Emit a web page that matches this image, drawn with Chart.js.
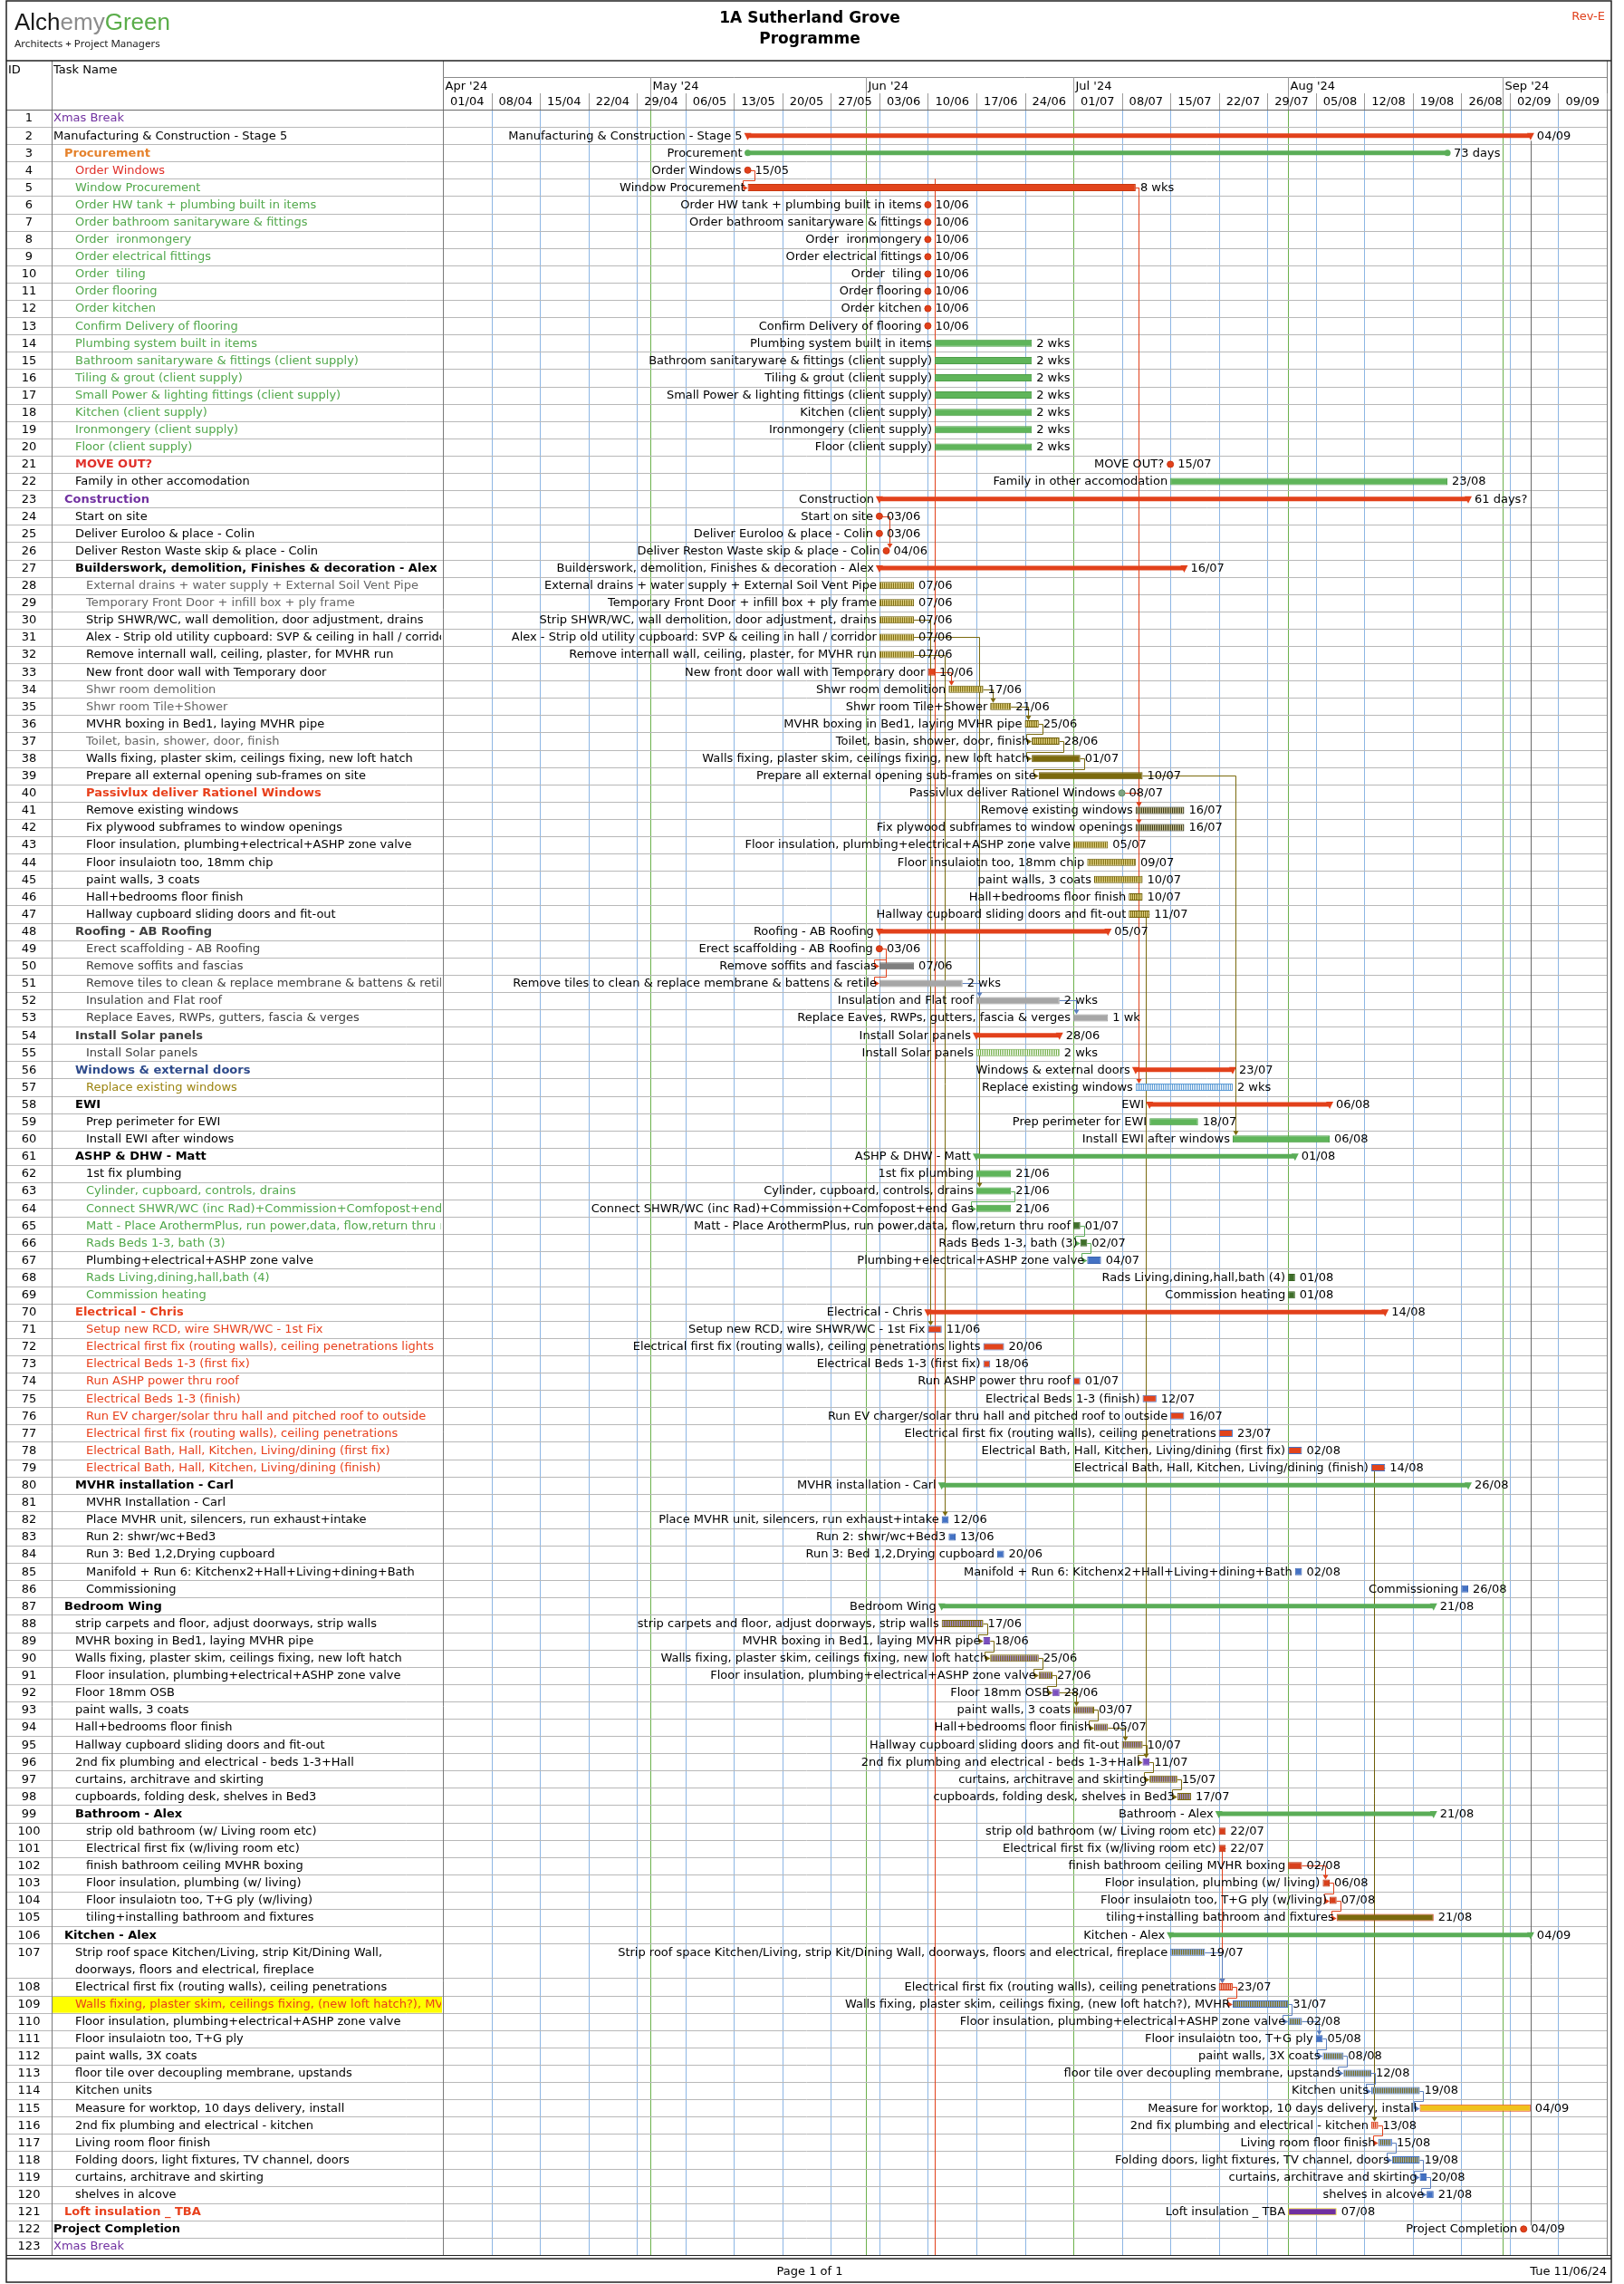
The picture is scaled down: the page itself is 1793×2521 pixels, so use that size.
<!DOCTYPE html>
<html>
<head>
<meta charset="utf-8">
<title>1A Sutherland Grove - Programme</title>
<script src="https://cdn.jsdelivr.net/npm/chart.js@4.4.1/dist/chart.umd.min.js"></script>
<style>
  html, body { margin: 0; padding: 0; background: #fff; }
  canvas { display: block; }
</style>
</head>
<body>
<canvas id="gantt" width="1793" height="2521"></canvas>
<script>
// ========================================
// PROGRAMME DATA
// ========================================

const taskNames = [
  'Xmas Break',                                                        // 1
  'Manufacturing & Construction - Stage 5',
  'Procurement',
  'Order Windows',
  'Window Procurement',
  'Order HW tank + plumbing built in items',
  'Order bathroom sanitaryware & fittings',
  'Order  ironmongery',
  'Order electrical fittings',
  'Order  tiling',                                                     // 10
  'Order flooring',
  'Order kitchen',
  'Confirm Delivery of flooring',
  'Plumbing system built in items',
  'Bathroom sanitaryware & fittings (client supply)',
  'Tiling & grout (client supply)',
  'Small Power & lighting fittings (client supply)',
  'Kitchen (client supply)',
  'Ironmongery (client supply)',
  'Floor (client supply)',                                             // 20
  'MOVE OUT?',
  'Family in other accomodation',
  'Construction',
  'Start on site',
  'Deliver Euroloo & place - Colin',
  'Deliver Reston Waste skip & place - Colin',
  'Builderswork, demolition, Finishes & decoration - Alex',
  'External drains + water supply + External Soil Vent Pipe',
  'Temporary Front Door + infill box + ply frame',
  'Strip SHWR/WC, wall demolition, door adjustment, drains',           // 30
  'Alex - Strip old utility cupboard: SVP & ceiling in hall / corridor',
  'Remove internall wall, ceiling, plaster, for MVHR run',
  'New front door wall with Temporary door',
  'Shwr room demolition',
  'Shwr room Tile+Shower',
  'MVHR boxing in Bed1, laying MVHR pipe',
  'Toilet, basin, shower, door, finish',
  'Walls fixing, plaster skim, ceilings fixing, new loft hatch',
  'Prepare all external opening sub-frames on site',
  'Passivlux deliver Rationel Windows',                                // 40
  'Remove existing windows',
  'Fix plywood subframes to window openings',
  'Floor insulation, plumbing+electrical+ASHP zone valve',
  'Floor insulaiotn too, 18mm chip',
  'paint walls, 3 coats',
  'Hall+bedrooms floor finish',
  'Hallway cupboard sliding doors and fit-out',
  'Roofing - AB Roofing',
  'Erect scaffolding - AB Roofing',
  'Remove soffits and fascias',                                        // 50
  'Remove tiles to clean & replace membrane & battens & retile',
  'Insulation and Flat roof',
  'Replace Eaves, RWPs, gutters, fascia & verges',
  'Install Solar panels',
  'Install Solar panels',
  'Windows & external doors',
  'Replace existing windows',
  'EWI',
  'Prep perimeter for EWI',
  'Install EWI after windows',                                         // 60
  'ASHP & DHW - Matt',
  '1st fix plumbing',
  'Cylinder, cupboard, controls, drains',
  'Connect SHWR/WC (inc Rad)+Commission+Comfopost+end Gas',
  'Matt - Place ArothermPlus, run power,data, flow,return thru roof',
  'Rads Beds 1-3, bath (3)',
  'Plumbing+electrical+ASHP zone valve',
  'Rads Living,dining,hall,bath (4)',
  'Commission heating',
  'Electrical - Chris',                                                // 70
  'Setup new RCD, wire SHWR/WC - 1st Fix',
  'Electrical first fix (routing walls), ceiling penetrations lights',
  'Electrical Beds 1-3 (first fix)',
  'Run ASHP power thru roof',
  'Electrical Beds 1-3 (finish)',
  'Run EV charger/solar thru hall and pitched roof to outside',
  'Electrical first fix (routing walls), ceiling penetrations',
  'Electrical Bath, Hall, Kitchen, Living/dining (first fix)',
  'Electrical Bath, Hall, Kitchen, Living/dining (finish)',
  'MVHR installation - Carl',                                          // 80
  'MVHR Installation - Carl',
  'Place MVHR unit, silencers, run exhaust+intake',
  'Run 2: shwr/wc+Bed3',
  'Run 3: Bed 1,2,Drying cupboard',
  'Manifold + Run 6: Kitchenx2+Hall+Living+dining+Bath',
  'Commissioning',
  'Bedroom Wing',
  'strip carpets and floor, adjust doorways, strip walls',
  'MVHR boxing in Bed1, laying MVHR pipe',
  'Walls fixing, plaster skim, ceilings fixing, new loft hatch',       // 90
  'Floor insulation, plumbing+electrical+ASHP zone valve',
  'Floor 18mm OSB',
  'paint walls, 3 coats',
  'Hall+bedrooms floor finish',
  'Hallway cupboard sliding doors and fit-out',
  '2nd fix plumbing and electrical - beds 1-3+Hall',
  'curtains, architrave and skirting',
  'cupboards, folding desk, shelves in Bed3',
  'Bathroom - Alex',
  'strip old bathroom (w/ Living room etc)',                           // 100
  'Electrical first fix (w/living room etc)',
  'finish bathroom ceiling MVHR boxing',
  'Floor insulation, plumbing (w/ living)',
  'Floor insulaiotn too, T+G ply (w/living)',
  'tiling+installing bathroom and fixtures',
  'Kitchen - Alex',
  'Strip roof space Kitchen/Living, strip Kit/Dining Wall, doorways, floors and electrical, fireplace',
  'Electrical first fix (routing walls), ceiling penetrations',
  'Walls fixing, plaster skim, ceilings fixing, (new loft hatch?), MVHR',
  'Floor insulation, plumbing+electrical+ASHP zone valve',             // 110
  'Floor insulaiotn too, T+G ply',
  'paint walls, 3X coats',
  'floor tile over decoupling membrane, upstands',
  'Kitchen units',
  'Measure for worktop, 10 days delivery, install',
  '2nd fix plumbing and electrical - kitchen',
  'Living room floor finish',
  'Folding doors, light fixtures, TV channel, doors',
  'curtains, architrave and skirting',
  'shelves in alcove',                                                 // 120
  'Loft insulation _ TBA',
  'Project Completion',
  'Xmas Break'
];

const outlineLevels = [
  0, 0, 1, 2, 2, 2, 2, 2, 2, 2,          // 1-10
  2, 2, 2, 2, 2, 2, 2, 2, 2, 2,          // 11-20
  2, 2, 1, 2, 2, 2, 2, 3, 3, 3,          // 21-30
  3, 3, 3, 3, 3, 3, 3, 3, 3, 3,          // 31-40
  3, 3, 3, 3, 3, 3, 3, 2, 3, 3,          // 41-50
  3, 3, 3, 2, 3, 2, 3, 2, 3, 3,          // 51-60
  2, 3, 3, 3, 3, 3, 3, 3, 3, 2,          // 61-70
  3, 3, 3, 3, 3, 3, 3, 3, 3, 2,          // 71-80
  3, 3, 3, 3, 3, 3, 1, 2, 2, 2,          // 81-90
  2, 2, 2, 2, 2, 2, 2, 2, 2, 3,          // 91-100
  3, 3, 3, 3, 3, 1, 2, 2, 2, 2,          // 101-110
  2, 2, 2, 2, 2, 2, 2, 2, 2, 2,          // 111-120
  1, 0, 0                                // 121-123
];

const taskStarts = [
  '', '15/05', '15/05', '15/05', '15/05', '10/06', '10/06', '10/06', '10/06', '10/06',            // 1-10
  '10/06', '10/06', '10/06', '11/06', '11/06', '11/06', '11/06', '11/06', '11/06', '11/06',       // 11-20
  '15/07', '15/07', '03/06', '03/06', '03/06', '04/06', '03/06', '03/06', '03/06', '03/06',       // 21-30
  '03/06', '03/06', '10/06', '13/06', '19/06', '24/06', '25/06', '25/06', '26/06', '08/07',       // 31-40
  '10/07', '10/07', '01/07', '03/07', '04/07', '09/07', '09/07', '03/06', '03/06', '03/06',       // 41-50
  '03/06', '17/06', '01/07', '17/06', '17/06', '10/07', '10/07', '12/07', '12/07', '24/07',       // 51-60
  '17/06', '17/06', '17/06', '17/06', '01/07', '02/07', '03/07', '01/08', '01/08', '10/06',       // 61-70
  '10/06', '18/06', '18/06', '01/07', '11/07', '15/07', '22/07', '01/08', '13/08', '12/06',       // 71-80
  '', '12/06', '13/06', '20/06', '02/08', '26/08', '12/06', '12/06', '18/06', '19/06',            // 81-90
  '26/06', '28/06', '01/07', '04/07', '08/07', '11/07', '12/07', '16/07', '22/07', '22/07',       // 91-100
  '22/07', '01/08', '06/08', '07/08', '08/08', '15/07', '15/07', '22/07', '24/07', '01/08',       // 101-110
  '05/08', '06/08', '09/08', '13/08', '20/08', '13/08', '14/08', '16/08', '20/08', '21/08',       // 111-120
  '01/08', '04/09', ''                                                                            // 121-123
];

const taskFinishes = [
  '', '04/09', '23/08', '15/05', '09/07', '10/06', '10/06', '10/06', '10/06', '10/06',            // 1-10
  '10/06', '10/06', '10/06', '24/06', '24/06', '24/06', '24/06', '24/06', '24/06', '24/06',       // 11-20
  '15/07', '23/08', '26/08', '03/06', '03/06', '04/06', '16/07', '07/06', '07/06', '07/06',       // 21-30
  '07/06', '07/06', '10/06', '17/06', '21/06', '25/06', '28/06', '01/07', '10/07', '08/07',       // 31-40
  '16/07', '16/07', '05/07', '09/07', '10/07', '10/07', '11/07', '05/07', '03/06', '07/06',       // 41-50
  '14/06', '28/06', '05/07', '28/06', '28/06', '23/07', '23/07', '06/08', '18/07', '06/08',       // 51-60
  '01/08', '21/06', '21/06', '21/06', '01/07', '02/07', '04/07', '01/08', '01/08', '14/08',       // 61-70
  '11/06', '20/06', '18/06', '01/07', '12/07', '16/07', '23/07', '02/08', '14/08', '26/08',       // 71-80
  '', '12/06', '13/06', '20/06', '02/08', '26/08', '21/08', '17/06', '18/06', '25/06',            // 81-90
  '27/06', '28/06', '03/07', '05/07', '10/07', '11/07', '15/07', '17/07', '21/08', '22/07',       // 91-100
  '22/07', '02/08', '06/08', '07/08', '21/08', '04/09', '19/07', '23/07', '31/07', '02/08',       // 101-110
  '05/08', '08/08', '12/08', '19/08', '04/09', '13/08', '15/08', '19/08', '20/08', '21/08',       // 111-120
  '07/08', '04/09', ''                                                                            // 121-123
];

// bar-end text where the programme shows a duration instead of the finish date
const durationLabels = {
  3: '73 days', 5: '8 wks', 14: '2 wks', 15: '2 wks', 16: '2 wks', 17: '2 wks', 18: '2 wks',
  19: '2 wks', 20: '2 wks', 23: '61 days?', 51: '2 wks', 52: '2 wks', 53: '1 wk', 55: '2 wks', 57: '2 wks'
};

// predecessor -> successor links
const taskLinks = [
  [4, 5], [24, 26], [33, 34], [34, 35], [35, 36], [36, 37], [37, 38], [38, 39],
  [40, 41], [40, 42], [5, 41], [5, 57], [30, 71], [32, 82], [31, 63], [63, 64], [39, 60], [47, 96],
  [79, 116], [101, 108],
  [49, 50], [49, 51], [51, 52], [52, 53], [65, 66], [66, 67],
  [88, 89], [89, 90], [90, 91], [91, 92], [92, 93], [93, 94], [94, 95],
  [95, 96], [96, 97], [97, 98], [102, 103], [103, 104], [104, 105], [107, 108], [108, 109],
  [109, 110], [110, 111], [111, 112], [112, 113], [113, 114], [114, 115], [116, 117],
  [117, 118], [118, 119], [119, 120]
];

const monthLabels = ["Apr '24", "May '24", "Jun '24", "Jul '24", "Aug '24", "Sep '24"];
const monthStarts = ['01/04', '01/05', '01/06', '01/07', '01/08', '01/09'];
const weekLabels = ['01/04', '08/04', '15/04', '22/04', '29/04', '06/05', '13/05', '20/05', '27/05',
  '03/06', '10/06', '17/06', '24/06', '01/07', '08/07', '15/07', '22/07', '29/07', '05/08',
  '12/08', '19/08', '26/08', '02/09', '09/09'];
const statusDate = '11/06';
const projectFinish = '04/09';

// ========================================
// STYLE CONFIGURATION
// ========================================

const FONT = '"DejaVu Sans", Verdana, sans-serif';
const FONT_PX = 13;
const TIMELINE_END_DAY = weekLabels.length * 7;
const DOUBLE_ROWS = [107];
const BAR_H = 8;
const SUMMARY_H = 5;

const COLORS = {
  red: '#e2411b',
  green: '#5aad57',
  olive: '#7b6a0e',
  blue: '#4472c4',
  grid: '#8db6e4',
  month: '#6cb14c',
  rowLine: '#b8b8b8',
  frame: '#222222'
};

const LINK_COLOR_OVERRIDE = { '79-116': '#6e5e08' };

const BAR_KIND = {};
function setKind(ids, kind) { ids.forEach(id => { BAR_KIND[id] = kind; }); }
function range(a, b) { const r = []; for (let i = a; i <= b; i++) r.push(i); return r; }

setKind([2, 23, 27, 48, 54, 56, 58, 70], 'sumR');
setKind([61, 80, 87, 99, 106], 'sumG');
setKind([3], 'sumGdot');
setKind([4, 6, 7, 8, 9, 10, 11, 12, 13, 21, 24, 25, 26, 40, 49, 122], 'ms');
setKind([5, 33], 'red');
setKind(range(14, 20).concat([22, 59, 60, 62, 63, 64]), 'green');
setKind(range(28, 32).concat(range(34, 37), range(43, 47)), 'olivePat');
setKind([38, 39], 'olive');
setKind([41, 42], 'darkPat');
setKind([50], 'gray');
setKind([51, 52, 53], 'lgray');
setKind([55], 'greenHatch');
setKind([57], 'blueHatch');
setKind([65, 66, 68, 69], 'dkgreen');
setKind([67, 82, 83, 84, 85, 86, 111, 119, 120], 'blue');
setKind(range(71, 79), 'redBlue');
setKind([88, 90, 91, 93, 94, 95, 97, 98], 'purplePat');
setKind([89, 92, 96], 'purple');
setKind(range(100, 104), 'redb');
setKind([105], 'oliveRed');
setKind([107, 109, 110, 112, 113, 114, 117, 118], 'bluePat');
setKind([108, 116], 'redPat');
setKind([115], 'yellow');
setKind([121], 'purpleY');

const NAME_COLOR = {};
function setColor(ids, c) { ids.forEach(id => { NAME_COLOR[id] = c; }); }
setColor([1, 23, 123], '#7030a0');
setColor([3], '#e5822c');
setColor([4, 21], '#e0302a');
setColor(range(5, 20).concat([63, 64, 65, 66, 68, 69]), '#52a84c');
setColor([28, 29, 34, 35, 37], '#666666');
setColor([40, 70, 121, 109].concat(range(71, 79)), '#e8401c');
setColor(range(48, 55), '#404040');
setColor([56], '#2e4a8a');
setColor([57], '#9c8410');
const BOLD_ROWS = [3, 21, 23, 27, 40, 48, 54, 56, 58, 61, 70, 80, 87, 99, 106, 121, 122];
const HIGHLIGHT_ROWS = [109];

function makePattern(bg, line, step) {
  const c = document.createElement('canvas');
  c.width = step; c.height = 8;
  const g = c.getContext('2d');
  g.fillStyle = bg; g.fillRect(0, 0, step, 8);
  g.fillStyle = line; g.fillRect(0, 0, 1, 8);
  return g.createPattern(c, 'repeat');
}

const KIND_STYLE = {
  red:        { fill: '#e2441c', border: '#c8380f' },
  green:      { fill: '#5fb55a', border: '#4f9e4a' },
  olive:      { fill: '#7b6a0e', border: '#6a5a08' },
  oliveRed:   { fill: '#7b6a0e', border: '#d8401c' },
  olivePat:   { fill: makePattern('#e9d98a', '#7b6a0e', 2), border: '#6e5e08' },
  darkPat:    { fill: makePattern('#d9d2a4', '#33320f', 2), border: '#2a290c' },
  gray:       { fill: '#7f7f7f', border: '#6f6f6f' },
  lgray:      { fill: '#a6a6a6', border: '#969696' },
  greenHatch: { fill: makePattern('#ffffff', '#70ad47', 2), border: '#70ad47' },
  blueHatch:  { fill: makePattern('#ffffff', '#5b9bd5', 2), border: '#5b9bd5' },
  dkgreen:    { fill: '#3f6f2a', border: '#35601f' },
  blue:       { fill: '#4472c4', border: '#3a64b0' },
  redBlue:    { fill: '#e2441c', border: '#4472c4' },
  purple:     { fill: '#7a4fbf', border: '#6a40a8' },
  purplePat:  { fill: makePattern('#a88ddb', '#7b6a0e', 2), border: '#7b6a0e' },
  redb:       { fill: '#d8401c', border: '#b8330f' },
  bluePat:    { fill: makePattern('#93b3ea', '#7b6a0e', 2), border: '#4472c4' },
  redPat:     { fill: makePattern('#f4b2a0', '#d8401c', 2), border: '#d8401c' },
  yellow:     { fill: '#f0c21c', border: '#e2441c' },
  purpleY:    { fill: '#7030a0', border: '#e8d21c' }
};

// ========================================
// DERIVED ROW GEOMETRY (in row units)
// ========================================

const DAY0 = Date.UTC(2024, 3, 1);
function dayOf(s) {
  const [d, m] = s.split('/').map(Number);
  return Math.round((Date.UTC(2024, m - 1, d) - DAY0) / 86400000);
}

const rowTop = [];
let unitCount = 0;
taskNames.forEach((n, i) => {
  rowTop.push(unitCount);
  unitCount += DOUBLE_ROWS.includes(i + 1) ? 2 : 1;
});

function isSummary(id) { const k = BAR_KIND[id]; return k === 'sumR' || k === 'sumG' || k === 'sumGdot'; }

const summaryPoints = [], taskPoints = [], milestonePoints = [];
taskNames.forEach((n, i) => {
  const id = i + 1;
  if (!taskStarts[i]) return;
  const kind = BAR_KIND[id];
  const yv = rowTop[i] + 0.5;
  if (kind === 'ms') {
    milestonePoints.push({ x: dayOf(taskStarts[i]), y: yv, id });
  } else if (isSummary(id)) {
    summaryPoints.push({ x: [dayOf(taskStarts[i]), dayOf(taskFinishes[i]) + 1], y: yv, id });
  } else {
    taskPoints.push({ x: [dayOf(taskStarts[i]), dayOf(taskFinishes[i]) + 1], y: yv, id });
  }
});

function barStartValue(i) { return dayOf(taskStarts[i]); }
function barEndValue(i) { return BAR_KIND[i + 1] === 'ms' ? dayOf(taskStarts[i]) : dayOf(taskFinishes[i]) + 1; }

// ========================================
// DRAWING PLUGIN
// ========================================

const TABLE = { left: 7, idRight: 57, nameRight: 489, right: 1779, headTop: 67, timeTier: 85, weekTier: 103 };

function linkColor(from, to) {
  const o = LINK_COLOR_OVERRIDE[from + '-' + to];
  if (o) return o;
  const k = BAR_KIND[from];
  if (k === 'sumR' || k === 'red' || k === 'redb' || k === 'redBlue' || k === 'redPat' || k === 'ms') return COLORS.red;
  if (k === 'green' || k === 'dkgreen' || k === 'sumG') return COLORS.green;
  if (k === 'lgray' || k === 'gray' || k === 'bluePat' || k === 'blue' || k === 'blueHatch') return '#5a7fbf';
  return COLORS.olive;
}

function drawLink(ctx, xs, ys, from, to) {
  const iF = from - 1, iT = to - 1;
  const xEnd = xs.getPixelForValue(barEndValue(iF)) + (BAR_KIND[from] === 'ms' ? 3 : 0);
  const yF = Math.round(ys.getPixelForValue(rowTop[iF] + 0.5)) + 0.5;
  const xSucc = xs.getPixelForValue(barStartValue(iT));
  const yT = ys.getPixelForValue(rowTop[iT] + 0.5);
  const half = BAR_KIND[to] === 'ms' ? 3 : (isSummary(to) ? SUMMARY_H / 2 : BAR_H / 2);
  const c = linkColor(from, to);
  ctx.strokeStyle = c; ctx.fillStyle = c; ctx.lineWidth = 1;
  ctx.beginPath();
  if (xSucc >= xEnd + 2 || iT - iF > 3) {
    const xv = Math.round(xSucc + 3) + 0.5;
    const yTip = yT - half;
    ctx.moveTo(xEnd, yF); ctx.lineTo(xv, yF); ctx.lineTo(xv, yTip - 4);
    ctx.stroke();
    ctx.beginPath(); ctx.moveTo(xv - 3, yTip - 5); ctx.lineTo(xv + 3, yTip - 5); ctx.lineTo(xv, yTip); ctx.closePath(); ctx.fill();
  } else {
    const xr = Math.round(xEnd + 4) + 0.5;
    const yMid = Math.round(ys.getPixelForValue(rowTop[iT]) + 2) + 0.5;
    const xl = Math.round(xSucc - 6) + 0.5;
    const yTr = Math.round(yT) + 0.5;
    ctx.moveTo(xEnd, yF); ctx.lineTo(xr, yF); ctx.lineTo(xr, yMid); ctx.lineTo(xl, yMid); ctx.lineTo(xl, yTr); ctx.lineTo(xSucc - 5, yTr);
    ctx.stroke();
    ctx.beginPath(); ctx.moveTo(xSucc - 5, yTr - 3); ctx.lineTo(xSucc - 5, yTr + 3); ctx.lineTo(xSucc, yTr); ctx.closePath(); ctx.fill();
  }
}

function downTriangle(ctx, x, y, color) {
  ctx.fillStyle = color;
  ctx.beginPath();
  ctx.moveTo(x - 4, y - 3); ctx.lineTo(x + 4, y - 3); ctx.lineTo(x, y + 5); ctx.closePath();
  ctx.fill();
}

const ganttSheetPlugin = {
  id: 'ganttSheet',
  beforeDraw(chart) {
    const ctx = chart.ctx, xs = chart.scales.x, ys = chart.scales.y, area = chart.chartArea;
    ctx.save();
    ctx.fillStyle = '#fff';
    ctx.fillRect(0, 0, chart.width, chart.height);

    // highlighted task-name cells
    HIGHLIGHT_ROWS.forEach(id => {
      const t = ys.getPixelForValue(rowTop[id - 1]), b = ys.getPixelForValue(rowTop[id - 1] + 1);
      ctx.fillStyle = '#ffff00';
      ctx.fillRect(TABLE.idRight + 1, t + 1, TABLE.nameRight - TABLE.idRight - 2, b - t - 1);
    });

    // week grid
    ctx.lineWidth = 1;
    ctx.strokeStyle = COLORS.grid;
    for (let k = 1; k <= weekLabels.length; k++) {
      const px = Math.round(xs.getPixelForValue(k * 7)) + 0.5;
      ctx.beginPath(); ctx.moveTo(px, area.top); ctx.lineTo(px, area.bottom); ctx.stroke();
    }
    // month lines
    ctx.strokeStyle = COLORS.month;
    monthStarts.slice(1).forEach(m => {
      const px = Math.round(xs.getPixelForValue(dayOf(m))) + 0.5;
      ctx.beginPath(); ctx.moveTo(px, area.top); ctx.lineTo(px, area.bottom); ctx.stroke();
    });
    // row lines
    ctx.strokeStyle = COLORS.rowLine;
    for (let i = 0; i < taskNames.length; i++) {
      const yb = Math.round(ys.getPixelForValue(rowTop[i] + (DOUBLE_ROWS.includes(i + 1) ? 2 : 1))) + 0.5;
      ctx.beginPath(); ctx.moveTo(TABLE.left, yb); ctx.lineTo(area.right, yb); ctx.stroke();
    }
    ctx.restore();
  },
  beforeDatasetsDraw(chart) {
    const ctx = chart.ctx, xs = chart.scales.x, ys = chart.scales.y, area = chart.chartArea;
    ctx.save();
    // current date line
    const sx = Math.round(xs.getPixelForValue(dayOf(statusDate))) + 0.5;
    ctx.strokeStyle = COLORS.red; ctx.lineWidth = 1;
    ctx.beginPath(); ctx.moveTo(sx, ys.getPixelForValue(rowTop[4])); ctx.lineTo(sx, area.bottom); ctx.stroke();
    // project finish line
    const fx = Math.round(xs.getPixelForValue(dayOf(projectFinish) + 1)) + 0.5;
    ctx.strokeStyle = '#6b6b6b';
    ctx.beginPath(); ctx.moveTo(fx, ys.getPixelForValue(rowTop[1] + 0.8)); ctx.lineTo(fx, ys.getPixelForValue(rowTop[121] + 0.3)); ctx.stroke();
    taskLinks.forEach(([a, b]) => drawLink(ctx, xs, ys, a, b));
    ctx.restore();
  },
  afterDatasetsDraw(chart) {
    const ctx = chart.ctx, xs = chart.scales.x, ys = chart.scales.y;
    ctx.save();
    // summary end markers
    summaryPoints.forEach(p => {
      const kind = BAR_KIND[p.id];
      const y = ys.getPixelForValue(p.y);
      const x0 = xs.getPixelForValue(p.x[0]), x1 = xs.getPixelForValue(p.x[1]);
      if (kind === 'sumGdot') {
        ctx.fillStyle = COLORS.green;
        [x0, x1].forEach(x => { ctx.beginPath(); ctx.arc(x, y, 3.5, 0, Math.PI * 2); ctx.fill(); });
      } else {
        const c = kind === 'sumR' ? COLORS.red : COLORS.green;
        downTriangle(ctx, x0, y, c);
        downTriangle(ctx, x1, y, c);
      }
    });
    // bar labels
    ctx.font = FONT_PX + 'px ' + FONT;
    ctx.fillStyle = '#000';
    ctx.textBaseline = 'middle';
    taskNames.forEach((name, i) => {
      if (!taskStarts[i]) return;
      const id = i + 1, kind = BAR_KIND[id];
      const y = ys.getPixelForValue(rowTop[i] + 0.5);
      const x0 = xs.getPixelForValue(barStartValue(i));
      const x1 = xs.getPixelForValue(barEndValue(i));
      const gapL = kind === 'ms' ? 7 : (isSummary(id) ? 6 : 3);
      const gapR = kind === 'ms' ? 8 : (isSummary(id) ? 7 : 5);
      ctx.textAlign = 'right';
      ctx.fillText(name, x0 - gapL, y + 0.5);
      ctx.textAlign = 'left';
      ctx.fillText(durationLabels[id] || taskFinishes[i], x1 + gapR, y + 0.5);
    });
    ctx.restore();
  },
  afterDraw(chart) {
    const ctx = chart.ctx, xs = chart.scales.x, ys = chart.scales.y, area = chart.chartArea;
    ctx.save();
    ctx.textBaseline = 'middle';

    // ---- task table ----
    ctx.save();
    ctx.beginPath();
    ctx.rect(TABLE.idRight + 1, area.top, TABLE.nameRight - TABLE.idRight - 3, area.bottom - area.top);
    ctx.clip();
    taskNames.forEach((name, i) => {
      const id = i + 1;
      ctx.font = (BOLD_ROWS.includes(id) ? 'bold ' : '') + FONT_PX + 'px ' + FONT;
      ctx.fillStyle = NAME_COLOR[id] || '#000';
      ctx.textAlign = 'left';
      const x = 59 + outlineLevels[i] * 12;
      if (DOUBLE_ROWS.includes(id)) {
        const words = name.split(' ');
        let line = '', lines = [];
        words.forEach(w => {
          const test = line ? line + ' ' + w : w;
          if (ctx.measureText(test).width > TABLE.nameRight - x - 6 && line) { lines.push(line); line = w; } else line = test;
        });
        lines.push(line);
        lines.slice(0, 2).forEach((l, k) => ctx.fillText(l, x, ys.getPixelForValue(rowTop[i] + 0.5 + k) + 0.5));
      } else {
        ctx.fillText(name, x, ys.getPixelForValue(rowTop[i] + 0.5) + 0.5);
      }
    });
    ctx.restore();
    ctx.font = FONT_PX + 'px ' + FONT;
    ctx.fillStyle = '#000';
    ctx.textAlign = 'center';
    taskNames.forEach((name, i) => {
      ctx.fillText(String(i + 1), 32, ys.getPixelForValue(rowTop[i] + 0.5) + 0.5);
    });

    // ---- table / chart lines ----
    ctx.lineWidth = 1;
    ctx.strokeStyle = '#7a7a7a';
    [TABLE.idRight, TABLE.nameRight].forEach(x => {
      ctx.beginPath(); ctx.moveTo(x + 0.5, TABLE.headTop); ctx.lineTo(x + 0.5, area.bottom); ctx.stroke();
    });
    ctx.beginPath(); ctx.moveTo(area.right + 0.5, TABLE.headTop); ctx.lineTo(area.right + 0.5, area.bottom); ctx.stroke();

    // ---- header ----
    ctx.strokeStyle = '#8a8a8a';
    ctx.beginPath(); ctx.moveTo(TABLE.nameRight, TABLE.timeTier + 0.5); ctx.lineTo(area.right, TABLE.timeTier + 0.5); ctx.stroke();
    ctx.strokeStyle = '#6a6a6a';
    ctx.beginPath(); ctx.moveTo(TABLE.left, area.top + 0.5); ctx.lineTo(TABLE.right, area.top + 0.5); ctx.stroke();
    ctx.font = FONT_PX + 'px ' + FONT;
    ctx.fillStyle = '#000';
    ctx.textAlign = 'left';
    ctx.fillText('ID', 9, 78);
    ctx.fillText('Task Name', 59, 78);
    ctx.strokeStyle = '#9a9a9a';
    monthStarts.forEach((m, k) => {
      const px = Math.round(xs.getPixelForValue(dayOf(m))) + 0.5;
      if (k > 0) { ctx.beginPath(); ctx.moveTo(px, TABLE.timeTier); ctx.lineTo(px, area.top); ctx.stroke(); }
      ctx.textAlign = 'left';
      ctx.fillText(monthLabels[k], px + 2, 96);
    });
    weekLabels.forEach((w, k) => {
      const a = xs.getPixelForValue(k * 7), b = xs.getPixelForValue(k * 7 + 7);
      const px = Math.round(b) + 0.5;
      ctx.beginPath(); ctx.moveTo(px, TABLE.weekTier); ctx.lineTo(px, area.top); ctx.stroke();
      ctx.textAlign = 'center';
      ctx.fillText(w, (a + b) / 2, 113);
    });

    // logo
    ctx.textAlign = 'left';
    ctx.textBaseline = 'alphabetic';
    ctx.font = '26px "Liberation Sans", Arial, sans-serif';
    let lx = 16;
    [['Alch', '#1a1a1a'], ['emy', '#8c8c8c'], ['Green', '#5aad4a']].forEach(([t, c]) => {
      ctx.fillStyle = c; ctx.fillText(t, lx, 33); lx += ctx.measureText(t).width;
    });
    ctx.fillStyle = '#1a1a1a';
    ctx.font = '11.5px "Noto Sans", sans-serif';
    ctx.fillText('Architects + Project Managers', 16, 52);

    // title
    ctx.textAlign = 'center';
    ctx.font = 'bold 17px ' + FONT;
    ctx.fillStyle = '#000';
    ctx.fillText('1A Sutherland Grove', 894, 25);
    ctx.fillText('Programme', 894, 48);
    ctx.textAlign = 'right';
    ctx.font = '13px ' + FONT;
    ctx.fillStyle = '#e0401c';
    ctx.fillText('Rev-E', 1772, 22);

    // footer
    ctx.fillStyle = '#000';
    ctx.font = FONT_PX + 'px ' + FONT;
    ctx.textBaseline = 'middle';
    ctx.textAlign = 'center';
    ctx.fillText('Page 1 of 1', 894, 2508);
    ctx.textAlign = 'right';
    ctx.fillText('Tue 11/06/24', 1774, 2508);

    // frame
    ctx.strokeStyle = COLORS.frame;
    ctx.lineWidth = 1.5;
    ctx.strokeRect(TABLE.left, 1, TABLE.right - TABLE.left, 2518);
    ctx.beginPath(); ctx.moveTo(TABLE.left, TABLE.headTop); ctx.lineTo(TABLE.right, TABLE.headTop); ctx.stroke();
    ctx.lineWidth = 1;
    ctx.beginPath(); ctx.moveTo(TABLE.left, area.bottom + 0.5); ctx.lineTo(TABLE.right, area.bottom + 0.5); ctx.stroke();
    ctx.lineWidth = 1.5;
    ctx.beginPath(); ctx.moveTo(TABLE.left, area.bottom + 4); ctx.lineTo(TABLE.right, area.bottom + 4); ctx.stroke();
    ctx.restore();
  }
};

// ========================================
// CHART
// ========================================

function barStyle(ctx, key) {
  const p = ctx.raw;
  if (!p) return '#000';
  const s = KIND_STYLE[BAR_KIND[p.id]];
  return s ? s[key] : '#000';
}

function createDatasetConfig() {
  return [
    {
      label: 'Summary',
      type: 'bar',
      indexAxis: 'y',
      data: summaryPoints,
      backgroundColor: c => (c.raw && BAR_KIND[c.raw.id] === 'sumR') ? COLORS.red : COLORS.green,
      borderWidth: 0,
      maxBarThickness: SUMMARY_H,
      grouped: false,
      borderSkipped: false,
      xAxisID: 'x',
      yAxisID: 'y'
    },
    {
      label: 'Tasks',
      type: 'bar',
      indexAxis: 'y',
      data: taskPoints,
      backgroundColor: c => barStyle(c, 'fill'),
      borderColor: c => barStyle(c, 'border'),
      borderWidth: 1,
      maxBarThickness: BAR_H,
      grouped: false,
      borderSkipped: false,
      xAxisID: 'x',
      yAxisID: 'y'
    },
    {
      label: 'Milestones',
      type: 'scatter',
      data: milestonePoints,
      pointRadius: 3.5,
      pointBackgroundColor: c => (c.raw && c.raw.id === 40) ? '#7fa383' : COLORS.red,
      pointBorderColor: c => (c.raw && c.raw.id === 40) ? '#5e8a63' : '#c8330f',
      pointBorderWidth: 1,
      xAxisID: 'x',
      yAxisID: 'y'
    }
  ];
}

new Chart(document.getElementById('gantt').getContext('2d'), {
  type: 'bar',
  data: { datasets: createDatasetConfig() },
  options: {
    responsive: false,
    animation: false,
    events: [],
    layout: { padding: { left: 489, right: 1793 - 1774, top: 121, bottom: 2521 - 2489 } },
    scales: {
      x: { type: 'linear', min: 0, max: TIMELINE_END_DAY, offset: false, grid: { offset: false }, display: false },
      y: { type: 'linear', min: 0, max: unitCount, reverse: true, offset: false, grid: { offset: false }, display: false }
    },
    plugins: { legend: { display: false }, tooltip: { enabled: false } }
  },
  plugins: [ganttSheetPlugin]
});
</script>
</body>
</html>
